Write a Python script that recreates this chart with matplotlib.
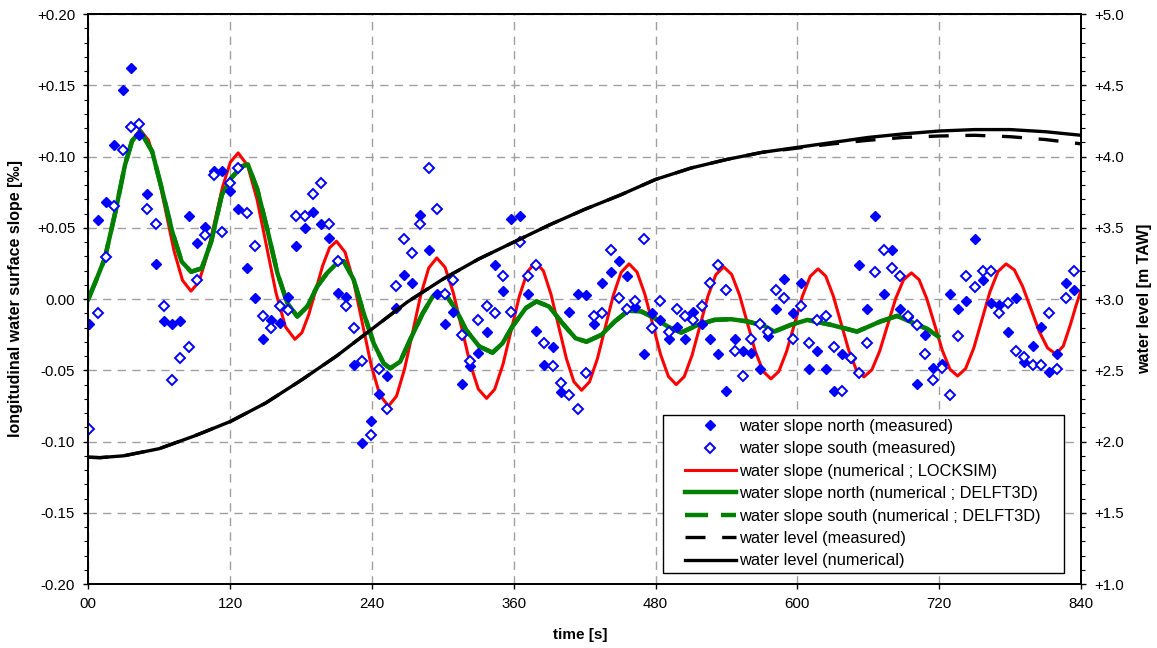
import matplotlib
matplotlib.use("Agg")
import matplotlib.pyplot as plt
import numpy as np
from matplotlib.ticker import MultipleLocator, FuncFormatter, FixedLocator
from matplotlib.patches import Rectangle

plt.rcParams['font.family'] = ['Liberation Sans', 'DejaVu Sans']

# ---------------- data ----------------
# sampling times of the measured water slopes [s]
meas_t = np.arange(1, 835, 7)

slope_north_meas = [
    -0.0178, 0.0554, 0.0685, 0.108, 0.147, 0.162, 0.1155, 0.0737, 0.0244, -0.0153,
    -0.0178, -0.0153, 0.058, 0.0397, 0.0507, 0.0897, 0.0897, 0.076, 0.0634, 0.0216,
    0.0007, -0.028, -0.0146, -0.0171, 0.0012, 0.0376, 0.05, 0.0613, 0.053, 0.0427,
    0.004, 0.0012, -0.0462, -0.101, -0.0857, -0.0669, -0.054, -0.0063, 0.0167, 0.0113,
    0.0587, 0.0347, 0.0038, -0.0174, -0.0092, -0.0596, -0.0467, -0.038, -0.0228, 0.0242,
    0.0059, 0.0559, 0.0582, 0.0038, -0.0223, -0.0462, -0.0333, -0.065, -0.0092, 0.0038,
    0.0031, -0.0176, 0.0113, 0.019, 0.027, 0.0164, -0.0052, -0.0385, -0.0099, -0.015,
    -0.0282, -0.0197, -0.0282, -0.0094, -0.0174, -0.0282, -0.0385, -0.0645, -0.0282, -0.0361,
    -0.0381, -0.0494, -0.0259, -0.0071, 0.0141, -0.0099, 0.0113, -0.0494, -0.0362, -0.0494,
    -0.0647, -0.0386, -0.0412, 0.0242, -0.0071, 0.0584, 0.0035, 0.0344, -0.0071, -0.0124,
    -0.0593, -0.025, -0.0487, -0.0456, 0.0035, -0.0068, -0.0016, 0.0424, 0.0136, -0.0024,
    -0.004, -0.0228, 0.0007, -0.0445, -0.0327, -0.0198, -0.0515, -0.0386, 0.0113, 0.0061,
]

slope_south_meas = [
    -0.091, -0.0096, 0.0293, 0.0657, 0.105, 0.1206, 0.123, 0.0634, 0.0526, -0.0047,
    -0.057, -0.0413, -0.0338, 0.0134, 0.0448, 0.0868, 0.0474, 0.0814, 0.092, 0.0603,
    0.0376, -0.0117, -0.0204, -0.0045, -0.0075, 0.0582, 0.0582, 0.0739, 0.0817, 0.053,
    0.027, -0.0047, -0.02, -0.0434, -0.0955, -0.049, -0.0775, 0.0089, 0.0425, 0.0324,
    0.0528, 0.0922, 0.0634, 0.0035, 0.0136, -0.0251, -0.0434, -0.0148, -0.0045, -0.0099,
    0.0164, -0.0094, 0.0399, 0.0164, 0.0242, -0.0305, -0.0467, -0.0591, -0.0674, -0.0775,
    -0.0516, -0.0122, -0.0099, 0.0343, 0.0007, -0.007, -0.0016, 0.0422, -0.02, -0.0016,
    -0.0228, -0.007, -0.0122, -0.015, -0.0047, 0.0113, 0.0242, 0.0061, -0.0361, -0.054,
    -0.0282, -0.0176, -0.0228, 0.0061, 0.0007, -0.0282, -0.0047, -0.031, -0.015, -0.0122,
    -0.0334, -0.0647, -0.0412, -0.0518, -0.031, 0.0188, 0.0348, 0.0219, 0.0165, -0.0122,
    -0.0181, -0.0386, -0.0569, -0.0487, -0.0675, -0.0259, 0.016, 0.0085, 0.0195, 0.0195,
    -0.0099, -0.0024, -0.0362, -0.0409, -0.0464, -0.0464, -0.0099, -0.0494, 0.0007, 0.0195,
]

locksim_t = [
    0, 6, 14, 23, 31, 37, 43.8,
    51.0, 58.2, 65.4, 72.5, 79.7, 86.9,
    93.6, 100.2, 106.9, 113.5, 120.2, 126.8,
    134.8, 142.8, 150.8, 158.8, 166.8, 174.8,
    180.7, 186.5, 192.4, 198.3, 204.1, 210,
    217.3, 224.7, 232, 239.3, 246.7, 254,
    260.8, 267.6, 274.5, 281.3, 288.1, 294.9,
    301.9, 308.9, 316, 323, 330, 337,
    343.9, 350.9, 357.8, 364.7, 371.7, 378.6,
    385.1, 391.5, 398, 404.5, 410.9, 417.4,
    424.1, 430.8, 437.5, 444.2, 450.9, 457.6,
    464.3, 470.9, 477.6, 484.2, 490.9, 497.5,
    504.2, 510.9, 517.6, 524.3, 531, 537.7,
    544.4, 551, 557.7, 564.3, 571, 577.6,
    584.3, 590.9, 597.6, 604.2, 610.9, 617.5,
    624, 630.4, 636.9, 643.4, 649.8, 656.3,
    663, 669.7, 676.4, 683.1, 689.8, 696.5,
    703, 709.5, 716.1, 722.6, 729.1, 735.6,
    742.4, 749.3, 756.1, 762.9, 769.8, 776.6,
    783.6, 790.6, 797.7, 804.7, 811.7, 818.7,
    825, 831, 836, 840,
]
locksim_v = [
    0.0, 0.012, 0.029, 0.062, 0.094, 0.111, 0.119,
    0.1114, 0.0907, 0.0623, 0.034, 0.0132, 0.0056,
    0.0121, 0.0299, 0.0541, 0.0784, 0.0961, 0.1026,
    0.0938, 0.0699, 0.0372, 0.0045, -0.0194, -0.0282,
    -0.0236, -0.011, 0.0062, 0.0234, 0.036, 0.0406,
    0.0329, 0.0117, -0.0173, -0.0462, -0.0674, -0.0751,
    -0.0681, -0.0491, -0.0231, 0.0029, 0.0219, 0.0289,
    0.0223, 0.0043, -0.0204, -0.0451, -0.0631, -0.0697,
    -0.0633, -0.0458, -0.0220, 0.0019, 0.0194, 0.0258,
    0.0198, 0.0034, -0.0191, -0.0416, -0.0580, -0.0640,
    -0.0581, -0.0418, -0.0197, 0.0025, 0.0188, 0.0247,
    0.0190, 0.0035, -0.0177, -0.0388, -0.0543, -0.0600,
    -0.0545, -0.0394, -0.0187, 0.0020, 0.0171, 0.0226,
    0.0173, 0.0030, -0.0167, -0.0364, -0.0507, -0.0560,
    -0.0508, -0.0367, -0.0174, 0.0019, 0.0160, 0.0212,
    0.0161, 0.0022, -0.0167, -0.0357, -0.0495, -0.0546,
    -0.0497, -0.0364, -0.0181, 0.0002, 0.0135, 0.0184,
    0.0136, 0.0003, -0.0178, -0.0359, -0.0492, -0.0540,
    -0.0487, -0.0343, -0.0147, 0.0050, 0.0194, 0.0247,
    0.0205, 0.0089, -0.0070, -0.0228, -0.0343, -0.0386,
    -0.033, -0.018, -0.004, 0.006,
]

delft_t = [
    0, 6, 14, 23, 31, 37, 44, 54, 62, 71, 79, 87, 96, 104, 113, 121, 130, 135,
    143, 151.5, 160, 168.4, 176.8, 185.3, 193.7, 202.1, 210.5, 216.2, 224.6, 233,
    241.5, 249.9, 255.5, 263.9, 272.3, 283, 291.5, 301.3, 311.1, 319.6, 330.9,
    342.1, 350.5, 358.9, 370.2, 379.2, 389.9, 401.1, 412.3, 421.6, 434.2, 445.5,
    456.8, 468, 479.3, 490.5, 501.7, 515.8, 529.8, 543.8, 557.9, 572, 580.4,
    594.4, 608.5, 628, 650.5, 670, 684.3, 698.4, 710, 719.2,
]
delft_north_v = [
    0.0, 0.012, 0.0286, 0.0615, 0.094, 0.111, 0.118, 0.1037, 0.078, 0.0474, 0.0263,
    0.0192, 0.0216, 0.0404, 0.0732, 0.085, 0.0932, 0.0946,
    0.077, 0.0488, 0.0183, -0.0028, -0.0122, -0.0052, 0.0089, 0.0183, 0.0253, 0.0265,
    0.0136, -0.0099, -0.031, -0.0451, -0.0486, -0.0439, -0.0286, -0.0099, 0.0019,
    0.0047, -0.0075, -0.0216, -0.0333, -0.0376, -0.031, -0.0192, -0.0063, -0.0016,
    -0.0052, -0.0169, -0.0275, -0.0299, -0.0251, -0.0157, -0.0082, -0.0087, -0.0134,
    -0.0193, -0.0235, -0.0181, -0.0146, -0.0141, -0.0157, -0.0188, -0.0228, -0.0181,
    -0.0146, -0.018, -0.0228, -0.0158, -0.0118, -0.0169, -0.021, -0.0263,
]
# south DELFT3D series coincides with the north one at this scale
delft_south_v = list(delft_north_v)

level_t = [0, 10, 30, 60, 90, 120, 150, 180, 210, 240, 270, 300, 330, 360, 390,
           420, 450, 480, 510, 540, 570, 600, 630, 660, 690, 720, 750, 780, 810, 840]
level_num = [1.89, 1.887, 1.90, 1.95, 2.04, 2.14, 2.27, 2.43, 2.60, 2.79, 2.98,
             3.14, 3.28, 3.40, 3.52, 3.63, 3.73, 3.84, 3.92, 3.98, 4.03, 4.065,
             4.10, 4.135, 4.16, 4.18, 4.19, 4.19, 4.175, 4.15]
level_meas = [1.89, 1.887, 1.90, 1.95, 2.04, 2.14, 2.27, 2.43, 2.60, 2.79, 2.98,
              3.14, 3.28, 3.40, 3.52, 3.63, 3.73, 3.84, 3.92, 3.98, 4.03, 4.06,
              4.09, 4.115, 4.135, 4.145, 4.15, 4.14, 4.12, 4.09]

x_ticks = [0, 120, 240, 360, 480, 600, 720, 840]

# ---------------- figure ----------------
W, H = 1157, 648
fig = plt.figure(figsize=(W / 100, H / 100), dpi=100)
L, R, T, B = 88.3, 1081, 14.2, 584
ax = fig.add_axes([L / W, 1 - B / H, (R - L) / W, (B - T) / H])
ax2 = ax.twinx()

BLUE = '#0000ff'
RED = '#ff0000'
GREEN = '#008000'

ax.set_xlim(0, 840)
ax.set_ylim(-0.20, 0.20)
ax2.set_ylim(1.0, 5.0)

grid_kw = dict(color='#a0a0a0', linewidth=1.0, linestyle=(0, (6, 4.5)))
ax.grid(True, which='major', **grid_kw)
ax.set_axisbelow(True)

h_rl, = ax.plot(locksim_t, locksim_v, color=RED, lw=2.2, zorder=3,
                label='water slope (numerical ; LOCKSIM)')
h_gs, = ax.plot(delft_t, delft_south_v, color=GREEN, lw=3.2, zorder=4,
                linestyle=(0, (5.2, 2.9)),
                label='water slope south (numerical ; DELFT3D)')
h_gn, = ax.plot(delft_t, delft_north_v, color=GREEN, lw=3.2, zorder=4.1,
                label='water slope north (numerical ; DELFT3D)')
h_n, = ax.plot(meas_t, slope_north_meas, linestyle='none', marker='D', ms=5.2,
               mfc=BLUE, mec=BLUE, mew=1.0, zorder=6,
               label='water slope north (measured)')
h_s, = ax.plot(meas_t, slope_south_meas, linestyle='none', marker='D', ms=5.0,
               mfc='white', mec=BLUE, mew=1.4, zorder=7,
               label='water slope south (measured)')

h_lm, = ax2.plot(level_t, level_meas, color='black', lw=2.4,
                 linestyle=(0, (6, 5)), label='water level (measured)')
h_ln, = ax2.plot(level_t, level_num, color='black', lw=2.4,
                 label='water level (numerical)')

# ticks
ax.xaxis.set_major_locator(FixedLocator(x_ticks))
ax.xaxis.set_minor_locator(MultipleLocator(30))
ax.xaxis.set_major_formatter(FuncFormatter(lambda v, p: '00' if v == 0 else f'{int(round(v))}'))
ax.yaxis.set_major_locator(MultipleLocator(0.05))
ax.yaxis.set_minor_locator(MultipleLocator(0.01))
ax.yaxis.set_major_formatter(FuncFormatter(lambda v, p: '0.00' if abs(v) < 1e-9 else f'{v:+.2f}'))
ax2.yaxis.set_major_locator(MultipleLocator(0.5))
ax2.yaxis.set_minor_locator(MultipleLocator(0.1))
ax2.yaxis.set_major_formatter(FuncFormatter(lambda v, p: f'{v:+.1f}'))

tick_font = 10.8
ax.tick_params(axis='both', which='major', direction='out', length=3.5, width=1.0,
               labelsize=tick_font, pad=6, colors='black')
ax.tick_params(axis='both', which='minor', direction='out', length=3.0, width=0.8)
ax.tick_params(axis='x', which='minor', length=0)
ax2.tick_params(axis='y', which='major', direction='out', length=3.5, width=1.0,
                labelsize=tick_font, pad=6)
ax2.tick_params(axis='y', which='minor', direction='out', length=3.0, width=0.8)

for a in (ax, ax2):
    for s in a.spines.values():
        s.set_linewidth(1.3)
        s.set_color('black')

# axis labels
fig.text(16 / W, 1 - 299 / H, 'longitudinal water surface slope [‰]', rotation=90,
         ha='center', va='center', fontsize=11.5, fontweight='bold')
fig.text(1145 / W, 1 - 299 / H, 'water level [m TAW]', rotation=90,
         ha='center', va='center', fontsize=11.5, fontweight='bold')
fig.text(580 / W, 1 - 635 / H, 'time [s]', ha='center', va='center',
         fontsize=11, fontweight='bold')

# legend: frame drawn separately (wide side margins, tight vertical margins)
frame = Rectangle((663 / W, 1 - 573 / H), (1064 - 663) / W, (573 - 415) / H,
                  transform=fig.transFigure, facecolor='white',
                  edgecolor='black', linewidth=1.0, zorder=9, clip_on=False)
ax2.add_patch(frame)
handles = [h_n, h_s, h_rl, h_gn, h_gs, h_lm, h_ln]
leg = ax2.legend(handles=handles, loc='upper left',
                 bbox_to_anchor=(685 / W, 1 - 419 / H), bbox_transform=fig.transFigure,
                 fontsize=11.8, frameon=False, handlelength=3.1, handletextpad=0.18,
                 labelspacing=0.45, borderpad=0, borderaxespad=0)
leg.set_zorder(10)

fig.savefig('out.png', dpi=100)
